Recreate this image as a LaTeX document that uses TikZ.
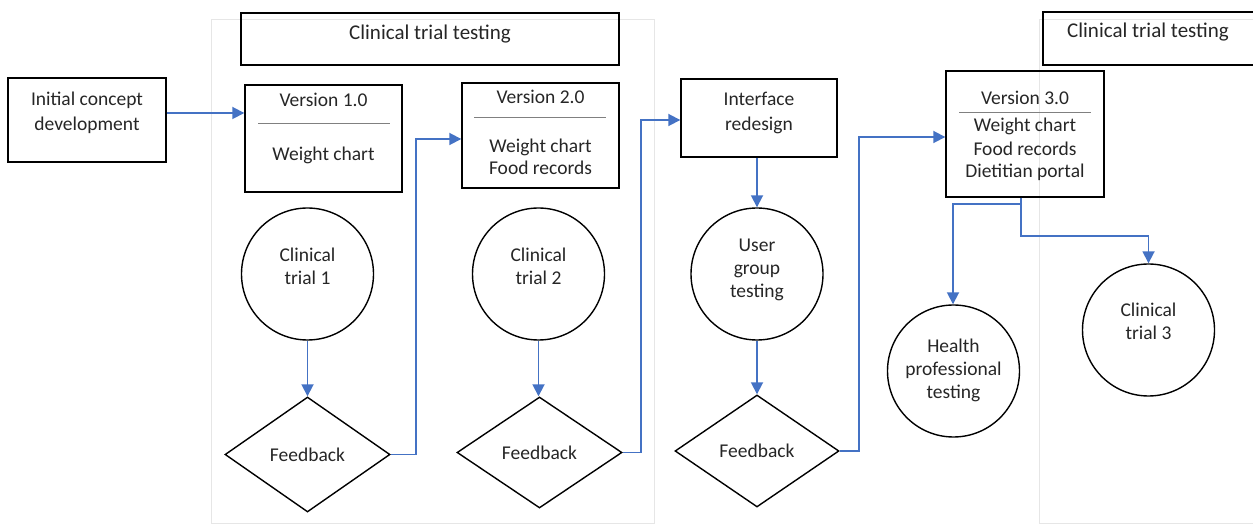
\documentclass[tikz,border=0pt]{standalone}
\usepackage{fontspec}
\setmainfont{Carlito}
\usetikzlibrary{arrows.meta,shapes.geometric}
\definecolor{arrblue}{HTML}{4472C4}
\definecolor{framegray}{HTML}{E6E6E6}
\definecolor{txt}{HTML}{262626}
\begin{document}
\begin{tikzpicture}[x=1pt,y=-1pt,
  every node/.style={text=txt},
  fs/.style={font=\fontsize{19.5}{23}\selectfont},
  fsbig/.style={font=\fontsize{21}{24}\selectfont},
  boxnode/.style={draw=black, line width=1.4pt, rectangle, inner sep=0pt},
  circnode/.style={draw=black, line width=1.4pt, circle, inner sep=0pt, minimum size=132pt},
  feedback/.style={draw=black, line width=1.4pt, diamond, inner sep=0pt, fs},
  sepline/.style={draw=black!50, line width=1pt},
  arr/.style={draw=arrblue, line width=1.8pt, -{Triangle[width=12pt,length=12pt]}},
  conn/.style={draw=arrblue, line width=1.8pt},
  txtnode/.style={fs, align=center, inner sep=0pt}
]
\useasboundingbox (0,0) rectangle (1253,526);
% frames
\draw[framegray, line width=1pt] (211,20) rectangle (654,523);
\draw[framegray, line width=1pt] (1039,20) rectangle (1262,523);
% top boxes
\node[boxnode, minimum width=378pt, minimum height=52pt] (ct1) at (430,39) {};
\node[txtnode, fsbig] (ct1t) at (430,34) {Clinical trial testing};
\node[boxnode, minimum width=220pt, minimum height=53pt] (ct2) at (1153,38.5) {};
\node[txtnode, fsbig] (ct2t) at (1148,32) {Clinical trial testing};
% initial concept
\node[boxnode, minimum width=158pt, minimum height=84pt] (ic) at (87,120) {};
\node[txtnode] (ict) at (87,112.5) {Initial concept\\[2pt]development};
% version 1.0
\node[boxnode, minimum width=157pt, minimum height=107pt] (v1) at (323.5,138.5) {};
\node[txtnode] (v1a) at (323.5,100) {Version 1.0};
\draw[sepline] (258,124) -- (390,124);
\node[txtnode] (v1b) at (323.5,155) {Weight chart};
% version 2.0
\node[boxnode, minimum width=157pt, minimum height=105pt] (v2) at (540.5,135.5) {};
\node[txtnode] (v2a) at (540.5,97) {Version 2.0};
\draw[sepline] (474,118) -- (606,118);
\node[txtnode] (v2b) at (540.5,147) {Weight chart};
\node[txtnode] (v2c) at (540.5,168) {Food records};
% interface redesign
\node[boxnode, minimum width=156pt, minimum height=78pt] (ir) at (759,118) {};
\node[txtnode] (irt) at (759,113) {Interface\\[2pt]redesign};
% version 3.0
\node[boxnode, minimum width=158pt, minimum height=126pt] (v3) at (1025,134) {};
\node[txtnode] (v3a) at (1025,98) {Version 3.0};
\draw[sepline] (959,113) -- (1091,113);
\node[txtnode] (v3b) at (1025,126) {Weight chart};
\node[txtnode] (v3c) at (1025,149) {Food records};
\node[txtnode] (v3d) at (1025,172) {Dietitian portal};
% circles
\node[circnode] (c1) at (307.5,274) {};
\node[txtnode] (c1t) at (307.5,266) {Clinical\\trial 1};
\node[circnode] (c2) at (538.5,274) {};
\node[txtnode] (c2t) at (538.5,266) {Clinical\\trial 2};
\node[circnode] (ug) at (757,274) {};
\node[txtnode] (ugt) at (757,270) {User\\group\\testing};
\node[circnode] (hp) at (953.5,371) {};
\node[txtnode] (hpt) at (953.5,370) {Health\\professional\\testing};
\node[circnode] (c3) at (1148.5,330) {};
\node[txtnode] (c3t) at (1148.5,321) {Clinical\\trial 3};
% diamonds
\node[feedback, minimum width=165pt, minimum height=115pt] (d1) at (307.5,454.5) {Feedback};
\node[feedback, minimum width=165pt, minimum height=111pt] (d2) at (539.5,452.5) {Feedback};
\node[feedback, minimum width=164pt, minimum height=112pt] (d3) at (757,451) {Feedback};
% connectors
\draw[arr] (ic.east |- 0,113) -- (v1.west |- 0,113);
\draw[arr] (c1.south) -- (d1.north);
\draw[arr] (c2.south) -- (c2.south |- d2.north);
\draw[arr] (d1.east) -- (416,454.5) -- (416,139) -- (v2.west |- 0,139);
\draw[arr] (d2.east) -- (641,452.5) -- (641,120) -- (ir.west |- 0,120);
\draw[arr] (ug.north |- ir.south) -- (ug.north);
\draw[arr] (ug.south) -- (d3.north);
\draw[arr] (d3.east) -- (859,451) -- (859,137) -- (v3.west |- 0,137);
\coordinate (v3b1) at (1021,204);
\draw[conn] (v3.south -| v3b1) -- (v3b1);
\draw[arr] (v3b1) -- (953,204) -- (hp.north -| 953,0);
\draw[arr] (v3b1) -- (1021,236) -- (1148.5,236) -- (c3.north);
\end{tikzpicture}
\end{document}
